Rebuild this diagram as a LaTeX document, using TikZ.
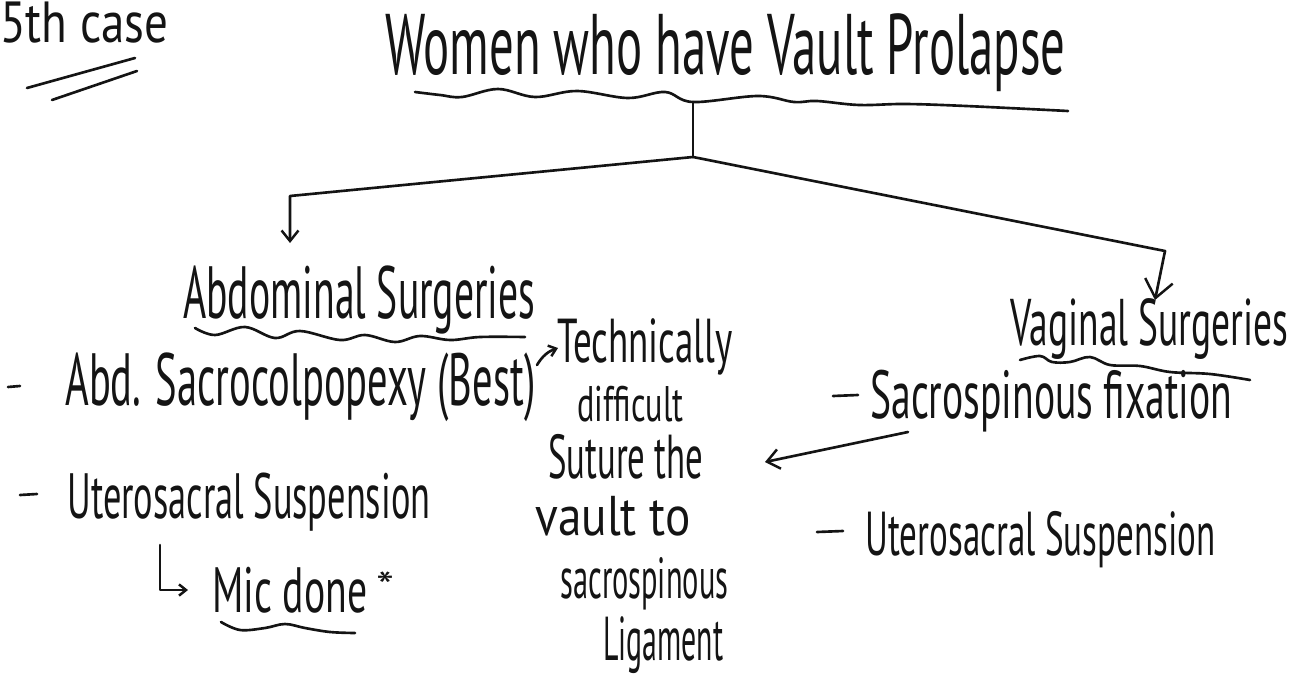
\documentclass[tikz,border=0pt]{standalone}
\usepackage{fontspec}
\setmainfont{PT Sans}
\usetikzlibrary{arrows.meta}
\definecolor{inkc}{HTML}{141414}
\newlength\pxu
\setlength\pxu{0.02cm}
% set text at a font size given in pixel units, then stretch it to a given width
\newcommand\hwt[3]{\resizebox{#1\pxu}{\height}{\fontsize{\fpeval{#2*0.5690551}pt}{\fpeval{#2*0.6}pt}\selectfont #3}}
\begin{document}
\begin{tikzpicture}[x=0.02cm,y=-0.02cm,
  ink/.style={draw=inkc, line width=1.5pt, line cap=round, line join=round},
  lbl/.style={inner sep=0pt, anchor=base west, text=inkc},
  barb/.style={-{Straight Barb[length=#1pt, width=#1pt*1.6, line width=1.4pt]}},
  barb/.default=5]
\useasboundingbox (0,0) rectangle (1300,686);
\fill[white] (0,0) rectangle (1300,686);

% heading in the corner
\node[lbl] (case) at (0,43) {\hwt{168}{58}{5th case}};
\draw[ink] (27,88) -- (135,58);
\draw[ink] (52,100) -- (137,71);

% title
\node[lbl] (title) at (385,74) {\hwt{680}{86}{Women who have Vault Prolapse}};
\draw[ink] plot[smooth, tension=0.6] coordinates {(415,92) (440,95) (462,97) (498,89) (535,97) (577,91) (628,98) (665,92) (693,102) (758,96) (794,102) (817,101) (859,105) (905,104) (966,106) (1068,111)};

% branches
\coordinate (stemtop) at (693,102);
\coordinate (fork) at (693,157);
\coordinate (lcorner) at (290,196);
\coordinate (ltip) at (290,243);
\coordinate (rcorner) at (1165,251);
\coordinate (rtip) at (1155,300);
\draw[ink] (stemtop) -- (fork);
\draw[ink, barb=6] (fork) -- (lcorner) -- (ltip);
\draw[ink, barb=10] (fork) -- (rcorner) -- (rtip);

% abdominal side
\node[lbl] (abd) at (183,318) {\hwt{352}{74}{Abdominal Surgeries}};
\draw[ink] plot[smooth, tension=0.6] coordinates {(195,328) (215,335) (245,327) (275,338) (300,331) (340,340) (365,335) (395,342) (420,336) (450,340) (480,337) (525,337)};

\coordinate (d1a) at (8,387);
\coordinate (d1b) at (20,386);
\draw[ink] (d1a) -- (d1b);
\node[lbl] (sacrocol) at (65,405) {\hwt{470}{74}{Abd. Sacrocolpopexy (Best)}};

\coordinate (d2a) at (20,495);
\coordinate (d2b) at (37,494);
\draw[ink] (d2a) -- (d2b);
\node[lbl] (uslabd) at (67,518) {\hwt{363}{64}{Uterosacral Suspension}};

\coordinate (hooktop) at (160,545);
\coordinate (hookbend) at (160,590);
\coordinate (hookend) at (188,590);
\draw[ink, barb=4] (hooktop) -- (hookbend) -- (hookend);
\node[lbl] (mic) at (212,612) {\hwt{155}{64}{Mic done}};
\node[lbl] (star) at (376,600) {\hwt{18}{40}{*}};
\draw[ink] plot[smooth, tension=0.6] coordinates {(221,622) (240,630) (265,628) (285,624) (305,628) (330,632) (355,633)};

% note beside the best option
\coordinate (bestout) at (537,365);
\coordinate (notein) at (558,348);
\draw[ink, barb=4] (bestout) to[bend left=20] (notein);
\node[lbl] (tech) at (557,362) {\hwt{175}{62}{Technically}};
\node[lbl] (diff) at (577,421) {\hwt{106}{50}{difficult}};
\node[lbl] (sut) at (548,478) {\hwt{155}{62}{Suture the}};
\node[lbl] (vault) at (535,535) {\hwt{155}{56}{vault to}};
\node[lbl] (sacsp) at (560,598) {\hwt{168}{58}{sacrospinous}};
\node[lbl] (lig) at (603,660) {\hwt{120}{62}{Ligament}};

% vaginal side
\node[lbl] (vag) at (1010,345) {\hwt{278}{66}{Vaginal Surgeries}};
\draw[ink] plot[smooth, tension=0.6] coordinates {(1020,360) (1040,356) (1052,362) (1070,362) (1090,357) (1110,365) (1140,366) (1170,372) (1210,374) (1250,380)};

\coordinate (d3a) at (833,396);
\coordinate (d3b) at (858,395);
\draw[ink] (d3a) -- (d3b);
\node[lbl] (ssf) at (870,418) {\hwt{362}{68}{Sacrospinous fixation}};
\coordinate (ssfout) at (908,432);
\coordinate (sutin) at (765,462);
\draw[ink, barb=7] (ssfout) -- (sutin);

\coordinate (d4a) at (817,532);
\coordinate (d4b) at (843,531);
\draw[ink] (d4a) -- (d4b);
\node[lbl] (uslvag) at (865,555) {\hwt{350}{62}{Uterosacral Suspension}};
\end{tikzpicture}
\end{document}
